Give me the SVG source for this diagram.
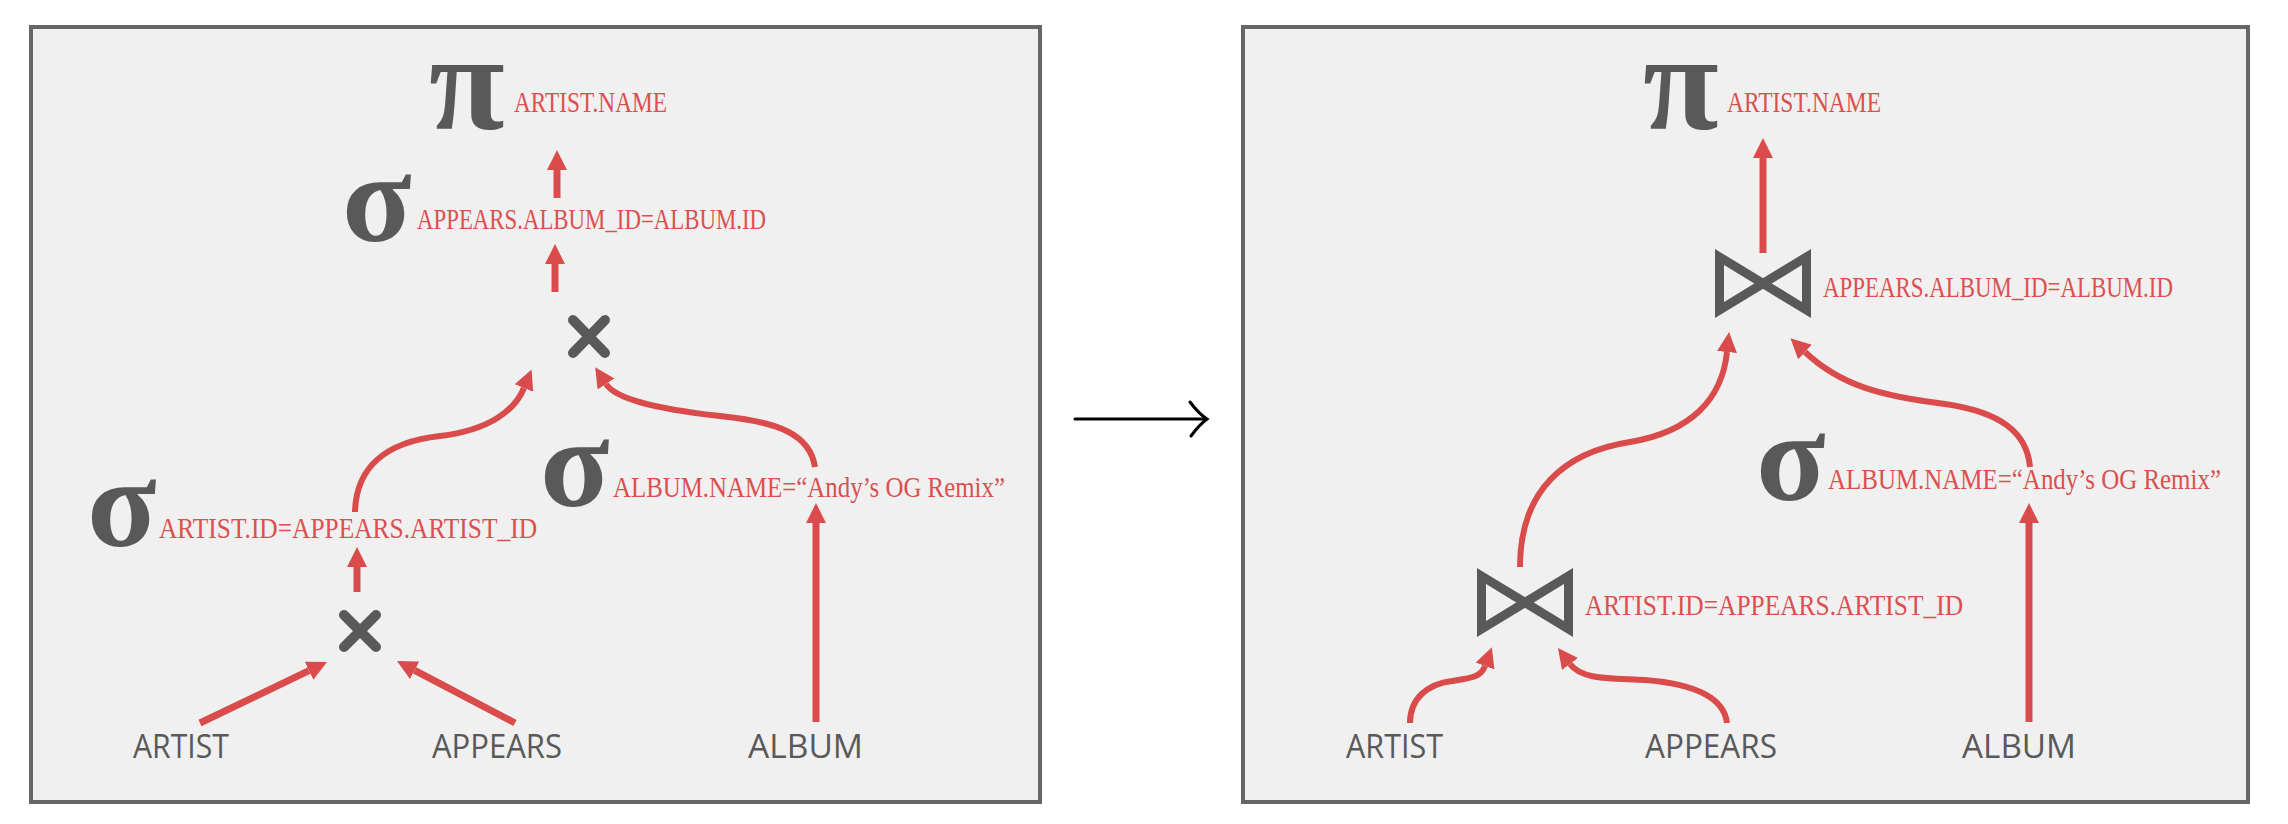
<svg xmlns="http://www.w3.org/2000/svg" width="2288" height="824" viewBox="0 0 2288 824">
  <style>
    .panel { fill: #F0F0F0; stroke: #666666; stroke-width: 4; }
    .op { font-family: "Liberation Serif", "DejaVu Serif", serif; font-weight: bold; fill: #595959; }
    .pi { font-size: 138px; }
    .sigma { font-size: 128px; }
    .cond { font-family: "Liberation Serif", "DejaVu Serif", serif; font-size: 30px; fill: #DC4F4F; }
    .rel { font-family: "Open Sans", "Liberation Sans", sans-serif; font-size: 32px; fill: #595959; }
    .cross { stroke: #595959; stroke-width: 10; stroke-linecap: round; fill: none; }
    .join { stroke: #595959; stroke-width: 9; stroke-linejoin: miter; fill: none; }
    .edge { stroke: #DA4B4B; fill: none; marker-end: url(#head); }
    .straight { stroke-width: 7; }
    .curve { stroke-width: 6; }
  </style>
  <defs>
    <marker id="head" markerUnits="userSpaceOnUse" viewBox="0 0 20 20" markerWidth="20" markerHeight="20" refX="0" refY="10" orient="auto">
      <path d="M0,0 L20,10 L0,20 Z" fill="#DA4B4B"/>
    </marker>
  </defs>

  <rect width="2288" height="824" fill="#FFFFFF"/>

  <!-- Panels -->
  <rect id="panel-before" class="panel" x="31" y="27" width="1009" height="775"/>
  <rect id="panel-after" class="panel" x="1243" y="27" width="1005" height="775"/>

  <!-- Transformation arrow between panels -->
  <g id="rewrite-arrow" fill="none" stroke="#000000" stroke-width="3" stroke-linecap="round">
    <path d="M1075,419 L1206,419"/>
    <path d="M1190,402 Q1199,414 1207,419 Q1199,425 1191,436"/>
  </g>

  <!-- Connectors -->
  <g id="connectors">
    <!-- left plan -->
    <path class="edge straight" d="M557,198 L557,170"/>
    <path class="edge straight" d="M555,292 L555,264"/>
    <path class="edge straight" d="M357,592 L357,567"/>
    <path class="edge straight" d="M200,723 L309,670.7"/>
    <path class="edge straight" d="M515,723 L414.7,670.3"/>
    <path class="edge straight" d="M816,722 L816,523"/>
    <path class="edge curve" d="M355,512 C356,468 385,442 440,436 C490,430 515,410 524,388"/>
    <path class="edge curve" d="M815,467 C810,435 780,422 720,416 C650,408 615,398 606,384"/>
    <!-- right plan -->
    <path class="edge straight" d="M1763,253 L1763,158"/>
    <path class="edge straight" d="M2029,722 L2029,523"/>
    <path class="edge curve" d="M1520,567 C1520,490 1565,452 1630,442 C1690,432 1722,400 1727,352"/>
    <path class="edge curve" d="M2030,467 C2027,432 2000,412 1945,404 C1880,396 1840,385 1805,352"/>
    <path class="edge curve" d="M1410,723 C1410,698 1428,684 1452,681 C1472,678 1481,677 1485,666"/>
    <path class="edge curve" d="M1727,723 C1724,697 1695,684 1645,680 C1610,678 1582,680 1570,664"/>
  </g>

  <!-- Left plan: projection -->
  <g id="l-project">
    <text class="op pi" x="429" y="129">π</text>
    <text class="cond" x="514" y="112" textLength="153" lengthAdjust="spacingAndGlyphs">ARTIST.NAME</text>
  </g>
  <!-- Left plan: album id filter -->
  <g id="l-select-album-id">
    <text class="op sigma" x="342" y="241">σ</text>
    <text class="cond" x="417" y="229" textLength="349" lengthAdjust="spacingAndGlyphs">APPEARS.ALBUM_ID=ALBUM.ID</text>
  </g>
  <!-- Left plan: upper cross product -->
  <g id="l-cross-top">
    <path class="cross" d="M573,320 L605,353 M605,320 L573,353"/>
  </g>
  <!-- Left plan: artist id filter -->
  <g id="l-select-artist-id">
    <text class="op sigma" x="87" y="546">σ</text>
    <text class="cond" x="159" y="538" textLength="378" lengthAdjust="spacingAndGlyphs">ARTIST.ID=APPEARS.ARTIST_ID</text>
  </g>
  <!-- Left plan: album name filter -->
  <g id="l-select-album-name">
    <text class="op sigma" x="540" y="506">σ</text>
    <text class="cond" x="613" y="497" textLength="392" lengthAdjust="spacingAndGlyphs">ALBUM.NAME=“Andy’s OG Remix”</text>
  </g>
  <!-- Left plan: lower cross product -->
  <g id="l-cross-bottom">
    <path class="cross" d="M344,615 L376,647 M376,615 L344,647"/>
  </g>
  <g id="l-artist"><text class="rel" x="133" y="758" textLength="96" lengthAdjust="spacingAndGlyphs">ARTIST</text></g>
  <g id="l-appears"><text class="rel" x="432" y="758" textLength="130" lengthAdjust="spacingAndGlyphs">APPEARS</text></g>
  <g id="l-album"><text class="rel" x="748" y="758" textLength="115" lengthAdjust="spacingAndGlyphs">ALBUM</text></g>

  <!-- Right plan: projection -->
  <g id="r-project">
    <text class="op pi" x="1643" y="129">π</text>
    <text class="cond" x="1727" y="112" textLength="154" lengthAdjust="spacingAndGlyphs">ARTIST.NAME</text>
  </g>
  <!-- Right plan: album join -->
  <g id="r-join-album">
    <path class="join" d="M1719.5,257 L1806.5,310 L1806.5,257 L1719.5,310 Z"/>
    <text class="cond" x="1823" y="297" textLength="350" lengthAdjust="spacingAndGlyphs">APPEARS.ALBUM_ID=ALBUM.ID</text>
  </g>
  <!-- Right plan: album name filter -->
  <g id="r-select-album-name">
    <text class="op sigma" x="1756" y="500">σ</text>
    <text class="cond" x="1828" y="489" textLength="393" lengthAdjust="spacingAndGlyphs">ALBUM.NAME=“Andy’s OG Remix”</text>
  </g>
  <!-- Right plan: artist join -->
  <g id="r-join-artist">
    <path class="join" d="M1481.5,576 L1568.5,629 L1568.5,576 L1481.5,629 Z"/>
    <text class="cond" x="1585" y="615" textLength="378" lengthAdjust="spacingAndGlyphs">ARTIST.ID=APPEARS.ARTIST_ID</text>
  </g>
  <g id="r-artist"><text class="rel" x="1346" y="758" textLength="97" lengthAdjust="spacingAndGlyphs">ARTIST</text></g>
  <g id="r-appears"><text class="rel" x="1645" y="758" textLength="132" lengthAdjust="spacingAndGlyphs">APPEARS</text></g>
  <g id="r-album"><text class="rel" x="1962" y="758" textLength="114" lengthAdjust="spacingAndGlyphs">ALBUM</text></g>
</svg>
